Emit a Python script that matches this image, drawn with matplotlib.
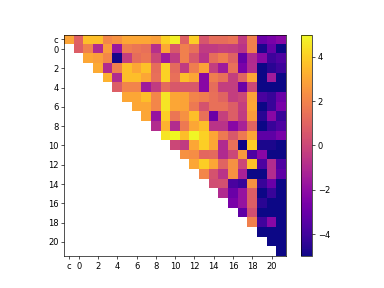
import numpy as np
import matplotlib.pyplot as plt

labels = ["c"] + [str(i) for i in range(22)]

# upper triangle, each row starts on the diagonal
row_c = [2.9, 0.9, 3.6, 3.6, 2.1, 2.4, 3.0, 3.0, 3.0, 2.8, 4.1, 4.8, 0.9, 4.0, 0.5, 1.3, 1.3, 1.5, -0.4, 1.9, -3.0, -2.6, -2.2]
row_0 = [0.8, 1.9, -1.0, 2.7, -1.7, 1.8, 1.6, 1.4, -0.8, 3.0, 0.6, 1.9, 1.4, -0.4, -0.4, -0.2, -0.3, -0.7, 1.9, -4.8, -3.1, -5.0]
row_1 = [3.0, 2.8, 2.1, -4.9, -0.3, 1.3, 1.6, 0.0, -1.6, -0.4, 1.9, 0.6, -0.7, 1.3, 1.8, 0.9, -3.1, -1.0, -2.2, -4.1, -3.7]
row_2 = [3.1, -1.0, 1.9, 3.6, 3.0, 3.7, 1.3, 4.1, 1.2, -0.4, 1.8, 2.9, -0.3, -1.6, 1.4, -2.6, -0.9, -5.0, -4.5, -4.1]
row_3 = [3.3, -1.0, 3.6, 3.6, 3.0, 1.4, 4.1, 1.4, 3.6, 3.0, -2.2, 1.8, 1.4, -0.3, 1.0, 3.0, -5.0, -1.5, -5.0]
row_4 = [0.8, 2.0, 2.0, -1.6, -0.4, 1.2, 0.6, 0.6, 0.6, -2.2, 1.3, -0.3, -0.3, -3.0, 0.0, -5.0, -5.0, -5.0]
row_5 = [3.0, 3.0, 3.6, 2.1, 4.5, 3.0, 2.9, 2.0, 1.8, 1.4, 1.0, -0.3, 0.0, 2.9, -3.8, -4.2, -3.0]
row_6 = [3.0, 3.0, 2.1, 4.5, 3.0, 2.9, 1.7, 0.4, 1.4, 1.4, 0.8, -0.3, 3.0, -5.0, -4.2, -2.6]
row_7 = [3.0, -1.8, 4.0, 1.6, 2.4, 3.6, 1.4, -3.0, -0.2, 0.8, -0.4, 2.7, -4.5, -2.2, -4.2]
row_8 = [-0.9, 3.3, -0.9, 1.7, 3.0, 3.6, -0.7, -0.7, -2.2, -1.3, 1.0, -5.0, -4.2, -3.7]
row_9 = [4.5, 5.0, 3.6, 4.9, 4.1, 3.0, 1.7, 0.6, 1.7, 3.0, -3.3, -3.3, -2.6]
row_10 = [0.0, -0.4, 3.0, 4.0, 3.0, -1.0, 1.4, -5.0, 4.0, -4.8, -4.8, -5.0]
row_11 = [2.4, 2.3, 1.1, 1.2, -1.0, 0.0, 2.6, -3.7, -2.2, -5.0, -5.0]
row_12 = [3.0, 4.0, 3.0, 1.0, 2.4, 0.0, 3.7, -3.7, -0.9, -3.7]
row_13 = [2.1, 0.4, -0.7, 2.4, -1.3, -5.0, -5.0, -0.9, -3.3]
row_14 = [0.2, 0.3, -3.8, -4.2, 2.4, -4.2, -3.0, -5.0]
row_15 = [-1.0, -3.0, -1.8, 0.8, -5.0, -4.2, -5.0]
row_16 = [-2.6, -1.8, 0.8, -4.5, -5.0, -5.0]
row_17 = [-3.3, 0.3, -5.0, -5.0, -5.0]
row_18 = [1.9, -4.0, -2.2, -5.0]
row_19 = [-5.0, -5.0, -5.0]
row_20 = [-5.0, -5.0]
row_21 = [-5.0]

rows = [row_c, row_0, row_1, row_2, row_3, row_4, row_5, row_6, row_7, row_8,
        row_9, row_10, row_11, row_12, row_13, row_14, row_15, row_16, row_17,
        row_18, row_19, row_20, row_21]

n = len(labels)
mat = np.full((n, n), np.nan)
for i, r in enumerate(rows):
    mat[i, i:] = r

fig, ax = plt.subplots(figsize=(6.4, 4.8), dpi=60)
im = ax.imshow(mat, cmap="plasma", vmin=-5, vmax=5)
fig.colorbar(im)

ticks = [0] + list(range(1, n, 2))
ax.set_xticks(ticks, [labels[t] for t in ticks])
ax.set_yticks(ticks, [labels[t] for t in ticks])

fig.savefig("out.png")
